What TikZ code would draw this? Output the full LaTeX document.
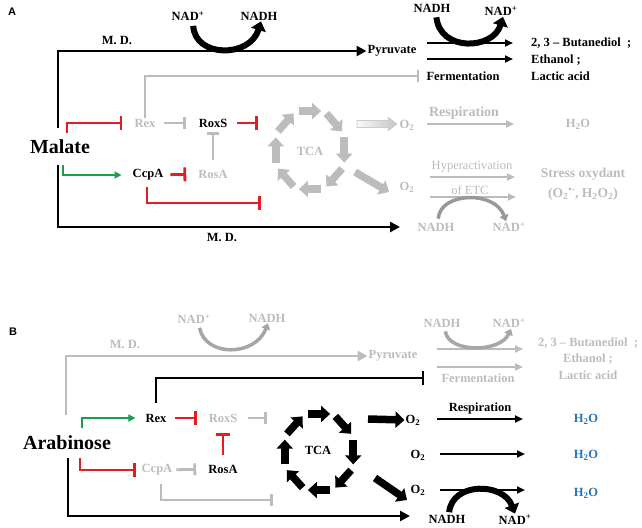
\documentclass[tikz,border=0pt]{standalone}
\usepackage{fontspec}
\setmainfont{Liberation Serif}
\newfontfamily\panelfont{Liberation Sans}
\usetikzlibrary{arrows.meta}
\definecolor{inhred}{RGB}{228,28,36}
\definecolor{actgreen}{RGB}{26,158,76}
\definecolor{fadegray}{RGB}{188,188,188}
\definecolor{waterblue}{RGB}{36,118,184}

\begin{document}
\begin{tikzpicture}[x=1pt, y=-1pt,
  txt/.style={font=\bfseries\fontsize{12.5}{14}\selectfont, inner sep=1pt},
  faded/.style={txt, text=fadegray},
  plain/.style={font=\fontsize{12.5}{14}\selectfont},
  sugar/.style={font=\bfseries\fontsize{20}{22}\selectfont, inner sep=2pt},
  panel/.style={font=\panelfont\bfseries\fontsize{11}{13}\selectfont},
  mainline/.style={line width=2.8pt, -{Triangle[length=10pt,width=10pt]}},
  thinarrow/.style={line width=2.2pt, -{Triangle[length=8pt,width=7pt]}},
  redinh/.style={inhred, line width=2.8pt, -{Bar[width=14pt]}},
  grayinh/.style={fadegray, line width=2.8pt, -{Bar[width=12pt]}},
  blackinh/.style={black, line width=2.8pt, -{Bar[width=14pt]}},
  greenact/.style={actgreen, line width=2.8pt, -{Triangle[length=7pt,width=7pt]}},
  blockarrow/.style={line width=7.5pt, -{Triangle[length=9pt,width=16pt]}},
  cofactor/.style={line width=6pt, -{Triangle[length=9pt,width=15pt]}},
  thincofactor/.style={line width=3.5pt, -{Triangle[length=6pt,width=9pt]}},
]
\useasboundingbox (0,0) rectangle (642,527);

% panel A
\coordinate (mdendA) at (400,227);
\coordinate (fstartA1) at (427,43);
\coordinate (fendA1) at (513,43);
\coordinate (fstartA2) at (427,59);
\coordinate (fendA2) at (513,59);
\coordinate (roxsbarA) at (258,123);
\coordinate (ccpabarA) at (261,203);
\coordinate (resA1) at (427,124);
\coordinate (resA2) at (514,124);
\coordinate (hypA1) at (430,177);
\coordinate (hypA2) at (515,177);
\coordinate (hypA3) at (430,197);
\coordinate (hypA4) at (516,197);
\coordinate (diagA1) at (355,172);
\coordinate (diagA2) at (389,192);

\node[panel] (labA) at (12,12) {A};
\node[txt] (nadA) at (188,16) {NAD\textsuperscript{+}};
\node[txt] (nadhA) at (259,16) {NADH};
\node[txt] (mdtopA) at (117,40) {M. D.};
\node[txt] (pyrA) at (392,51) {Pyruvate};
\node[txt] (fnadhA) at (432,8) {NADH};
\node[txt] (fnadA) at (501,11) {NAD\textsuperscript{+}};
\node[txt] (fermA) at (463,76) {Fermentation};
\node[txt, anchor=west] (butA) at (530,43) {2, 3 – Butanediol\ \ ;};
\node[txt, anchor=west] (ethA) at (530,60) {Ethanol ;};
\node[txt, anchor=west] (lacA) at (530,76) {Lactic acid};
\node[sugar] (malate) at (60,147) {Malate};
\node[faded] (rexA) at (145,123) {Rex};
\node[txt] (roxsA) at (213,123) {RoxS};
\node[txt] (ccpaA) at (148,175) {CcpA};
\node[faded] (rosaA) at (213,174) {RosA};
\node[faded] (tcaA) at (310,151) {TCA};
\node[faded] (o2resA) at (407,125) {O\textsubscript{2}};
\node[faded, font=\bfseries\fontsize{14}{16}\selectfont] (respA) at (464,113) {Respiration};
\node[faded] (h2oA) at (578,124) {H\textsubscript{2}O};
\node[faded] (o2etcA) at (407,187) {O\textsubscript{2}};
\node[faded, plain] (hyperA) at (472,167) {Hyperactivation};
\node[faded, plain] (etcA) at (470,190) {of ETC};
\node[faded] (etcnadhA) at (436,227) {NADH};
\node[faded] (etcnadA) at (509,227) {NAD\textsuperscript{+}};
\node[faded, font=\bfseries\fontsize{13.5}{15}\selectfont] (stressA) at (583,174) {Stress oxydant};
\node[faded, font=\bfseries\fontsize{13.5}{15}\selectfont] (rosA) at (583,194) {(O\textsubscript{2}\textsuperscript{•-}, H\textsubscript{2}O\textsubscript{2})};
\node[txt] (mdbotA) at (222,237) {M. D.};

\draw[mainline] ([xshift=-2pt,yshift=10pt]malate.north) |- (pyrA.west);
\draw[mainline] ([xshift=-2pt,yshift=-9pt]malate.south) |- (mdendA);
\draw[cofactor, shorten <=4pt] ([xshift=5pt]nadA.south) .. controls (195,58) and (250,58) .. ([xshift=2pt]nadhA.south);
\draw[thinarrow] (fstartA1) -- (fendA1);
\draw[thinarrow] (fstartA2) -- (fendA2);
\draw[cofactor, shorten <=4pt] ([xshift=4pt]fnadhA.south) .. controls (440,52) and (493,50) .. ([xshift=2pt]fnadA.south);
\draw[grayinh] (rexA.north) |- ([xshift=-6pt]fermA.west);
\draw[redinh] ([xshift=7pt,yshift=5pt]malate.north) |- ([xshift=-11pt]rexA.west);
\draw[grayinh, shorten <=7pt, shorten >=12pt] (rexA) -- (roxsA);
\draw[redinh, shorten <=9pt] (roxsA.east) -- (roxsbarA);
\draw[greenact] ([xshift=3pt,yshift=-9pt]malate.south) |- ([xshift=-10pt]ccpaA.west);
\draw[redinh, shorten <=6pt, shorten >=11pt] (ccpaA) -- (rosaA);
\draw[grayinh, shorten <=9pt, shorten >=4pt] (rosaA) -- (roxsA);
\draw[redinh, shorten <=5pt] ([xshift=-1pt]ccpaA.south) |- (ccpabarA);
\foreach \a in {0,45,...,315}
  \draw[blockarrow, fadegray] ({310+36*cos(\a-18)},{150+41*sin(\a-18)}) -- ({310+36*cos(\a+18)},{150+41*sin(\a+18)});
\shadedraw[left color=gray!5, right color=gray!45, draw=gray!40, line width=0.6pt]
  (357,120.5) -- (388,120.5) -- (388,117) -- (397,124) -- (388,131) -- (388,127.5) -- (357,127.5) -- cycle;
\draw[blockarrow, fadegray] (diagA1) -- (diagA2);
\draw[thinarrow, fadegray] (resA1) -- (resA2);
\draw[thinarrow, fadegray] (hypA1) -- (hypA2);
\draw[thinarrow, fadegray] (hypA3) -- (hypA4);
\draw[thincofactor, gray!80, shorten <=3pt] ([xshift=2pt]etcnadhA.north) .. controls (440,192) and (495,190) .. ([xshift=-3pt]etcnadA.north);

% panel B
\coordinate (mdendB) at (410,516);
\coordinate (fstartB1) at (437,349);
\coordinate (fendB1) at (523,349);
\coordinate (fstartB2) at (437,367);
\coordinate (fendB2) at (523,367);
\coordinate (roxsbarB) at (267,418);
\coordinate (ccpabarB) at (273,500);
\coordinate (tcaoutB) at (368,419);
\coordinate (diagB1) at (375,478);
\coordinate (diagB2) at (407,500);
\coordinate (resB1) at (437,419);
\coordinate (resB2) at (523,419);
\coordinate (resB3) at (440,454);
\coordinate (resB4) at (525,454);
\coordinate (resB5) at (440,490);
\coordinate (resB6) at (525,490);

\node[panel] (labB) at (13,332) {B};
\node[faded] (nadB) at (194,319) {NAD\textsuperscript{+}};
\node[faded] (nadhB) at (267,318) {NADH};
\node[faded] (mdtopB) at (125,344) {M. D.};
\node[faded] (pyrB) at (393,356) {Pyruvate};
\node[faded] (fnadhB) at (442,323) {NADH};
\node[faded] (fnadB) at (509,323) {NAD\textsuperscript{+}};
\node[faded] (fermB) at (478,378) {Fermentation};
\node[faded] (butB) at (588,343) {2, 3 – Butanediol\ \ ;};
\node[faded] (ethB) at (588,359) {Ethanol ;};
\node[faded] (lacB) at (588,375) {Lactic acid};
\node[sugar] (arab) at (67,443) {Arabinose};
\node[txt] (rexB) at (156,418) {Rex};
\node[faded] (roxsB) at (223,418) {RoxS};
\node[txt] (rosaB) at (223,469) {RosA};
\node[faded] (ccpaB) at (157,470) {CcpA};
\node[txt] (tcaB) at (318,450) {TCA};
\node[txt] (o2aB) at (413,420) {O\textsubscript{2}};
\node[txt] (o2bB) at (418,455) {O\textsubscript{2}};
\node[txt] (o2cB) at (418,490) {O\textsubscript{2}};
\node[txt] (respB) at (480,408) {Respiration};
\node[txt, text=waterblue] (h2oaB) at (586,419) {H\textsubscript{2}O};
\node[txt, text=waterblue] (h2obB) at (586,455) {H\textsubscript{2}O};
\node[txt, text=waterblue] (h2ocB) at (586,493) {H\textsubscript{2}O};
\node[txt] (etcnadhB) at (447,519.5) {NADH};
\node[txt] (etcnadB) at (515,519.5) {NAD\textsuperscript{+}};

\draw[mainline, fadegray] ([xshift=-1pt,yshift=19pt]arab.north) |- (pyrB.west);
\draw[mainline] ([xshift=1pt,yshift=-6pt]arab.south) |- (mdendB);
\draw[thincofactor, gray!70, shorten <=3pt] ([xshift=5pt]nadB.south) .. controls (205,357) and (255,357) .. ([xshift=1pt]nadhB.south);
\draw[thinarrow, fadegray] (fstartB1) -- (fendB1);
\draw[thinarrow, fadegray] (fstartB2) -- (fendB2);
\draw[thincofactor, gray!70, shorten <=3pt] ([xshift=3pt]fnadhB.south) .. controls (448,353) and (500,353) .. ([xshift=2pt]fnadB.south);
\draw[blackinh, shorten <=10pt] (rexB.north) |- ([xshift=-16pt]fermB.west);
\draw[greenact] ([xshift=15pt,yshift=6pt]arab.north) |- ([xshift=-9pt]rexB.west);
\draw[redinh, shorten <=7pt, shorten >=11pt] (rexB) -- (roxsB);
\draw[grayinh, shorten <=10pt] (roxsB.east) -- (roxsbarB);
\draw[redinh, shorten <=9pt, shorten >=10pt] (rosaB) -- (roxsB);
\draw[redinh] ([xshift=13pt,yshift=-6pt]arab.south) |- ([xshift=-5pt]ccpaB.west);
\draw[grayinh, shorten <=3pt, shorten >=11pt] (ccpaB) -- (rosaB);
\draw[grayinh, shorten <=7pt] ([xshift=4pt]ccpaB.south) |- (ccpabarB);
\foreach \a in {0,45,...,315}
  \draw[blockarrow] ({319+36*cos(\a-18)},{452+40*sin(\a-18)}) -- ({319+36*cos(\a+18)},{452+40*sin(\a+18)});
\draw[blockarrow] (tcaoutB) -- (o2aB.west);
\draw[blockarrow] (diagB1) -- (diagB2);
\draw[thinarrow] (resB1) -- (resB2);
\draw[thinarrow] (resB3) -- (resB4);
\draw[thinarrow] (resB5) -- (resB6);
\draw[cofactor, shorten <=2pt] ([xshift=2pt]etcnadhB.north) .. controls (452,482) and (503,482) .. (etcnadB.north);
\end{tikzpicture}
\end{document}
